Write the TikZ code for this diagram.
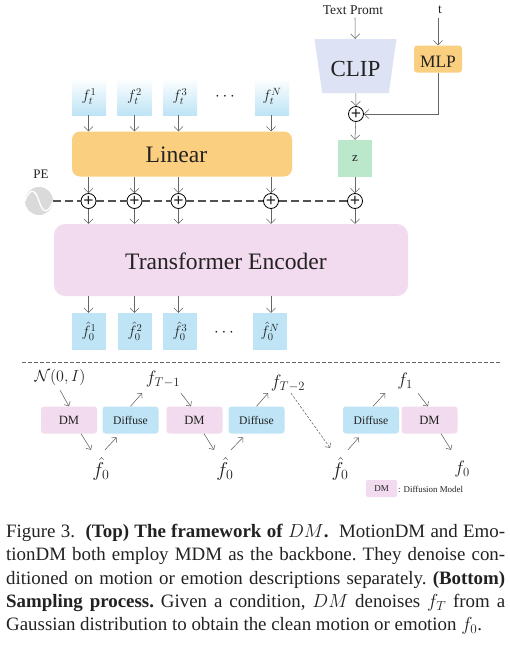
\documentclass[tikz,border=0pt]{standalone}
\usepackage{fix-cm}
\usepackage{fontspec}
\setmainfont{Liberation Serif}
\usepackage{xcolor}
\usetikzlibrary{arrows.meta,shapes.geometric}
\definecolor{DMPink}{HTML}{F2DBEE}
\definecolor{DMBlue}{HTML}{BEE4F6}
\definecolor{DMOrange}{HTML}{FBCF80}
\definecolor{DMClip}{HTML}{DDE3F4}
\definecolor{DMGreen}{HTML}{BBE7CB}
\definecolor{DMGrey}{HTML}{DADADA}
\definecolor{DMLine}{HTML}{666666}
\definecolor{DMText}{HTML}{222222}
\newcommand{\fsz}[1]{\fontsize{#1}{#1}\selectfont}
\newcommand{\lowered}[2]{\raisebox{\dimexpr-.33em-#1\relax}[.5em][.5em]{#2}}
\tikzset{
  every node/.style={text=DMText},
  flow/.style={DMLine,line width=.55pt,-{Straight Barb[length=4.5pt,width=9pt]}},
  thinflow/.style={DMLine!85!black,line width=.5pt,-{Straight Barb[length=3.5pt,width=7pt]}},
  gapflow/.style={thinflow,shorten >=5pt},
  fbox/.style={minimum width=34pt,minimum height=37pt,inner sep=0pt,fill=DMBlue,font=\fsz{15}},
  ftop/.style={fbox,fill=none,top color=white,middle color=DMBlue,bottom color=DMBlue},
  sumnode/.style={circle,draw=black,fill=white,line width=.8pt,minimum size=15pt,inner sep=0pt,font=\bfseries\fsz{18}},
  dashlink/.style={DMLine!80!black,line width=1.3pt,dash pattern=on 8pt off 4pt},
  wide/.style={rounded corners=8pt,inner sep=0pt,font=\fsz{23.6}},
  dmbox/.style={rounded corners=3pt,minimum width=56pt,minimum height=27pt,inner sep=0pt,fill=DMPink,font=\fsz{12.6}},
  diffbox/.style={dmbox,fill=DMBlue,font=\fsz{11.6}},
  mathlab/.style={inner sep=0pt,font=\fsz{18}},
}
\begin{document}
\begin{tikzpicture}[x=1pt,y=-1pt]
\path[use as bounding box] (0,0) rectangle (510,648);
\fill[white] (0,0) rectangle (510,648);
% condition branch
\node[inner sep=1pt,font=\fsz{13.5}] (prompt) at (353,10) {Text Promt};
\node[inner sep=1pt,font=\fsz{13.5}] (tstep) at (440,10) {t};
\node[trapezium,trapezium stretches=true,trapezium angle=76,shape border rotate=180,minimum width=82pt,minimum height=54pt,inner sep=0pt,fill=DMClip,font=\fsz{23}] (clip) at (355.5,66) {\lowered{2.7pt}{CLIP}};
\node[rounded corners=3pt,minimum width=48pt,minimum height=27pt,inner sep=0pt,fill=DMOrange,font=\fsz{17.4}] (mlp) at (438,59) {\lowered{3pt}{MLP}};
\node[sumnode] (sumT) at (356,114) {+};
\node[fbox,fill=DMGreen,font=\fsz{13}] (z) at (355,158.5) {z};
\draw[flow] ([xshift=2pt,yshift=-2pt]prompt.south) -- (clip);
\draw[flow] ([xshift=-2pt,yshift=-3pt]tstep.south) -- (mlp.north);
\draw[flow] (clip) -- (sumT);
\draw[flow] (mlp.south) |- (sumT);
\draw[flow] (sumT) -- (z.north);
% input frames
\node[ftop] (ftA) at (89,96.5) {$f_t^1$};
\node[ftop] (ftB) at (134.5,96.5) {$f_t^2$};
\node[ftop] (ftC) at (180,96.5) {$f_t^3$};
\node[ftop] (ftN) at (272,96.5) {$f_t^N$};
\node[inner sep=0pt,font=\fsz{17}] (dotsTop) at (225,97) {$\cdots$};
\node[wide,fill=DMOrange,minimum width=220pt,minimum height=45pt] (linear) at (182,154) {\lowered{1pt}{Linear}\hspace*{11pt}};
% positional encoding
\node[circle,fill=DMGrey,minimum size=28pt,inner sep=0pt] (pe) at (39,201) {};
\draw[white,line width=1.4pt] (pe.west) .. controls +(5,-13) and +(-4,-13) .. (pe.center) .. controls +(4,13) and +(-5,13) .. (pe.east);
\node[inner sep=0pt,font=\fsz{13}] (pelabel) at (41,174) {PE};
\node[sumnode] (sumA) at (88.5,201) {+};
\node[sumnode] (sumB) at (134.5,201) {+};
\node[sumnode] (sumC) at (178.5,201) {+};
\node[sumnode] (sumN) at (271,201) {+};
\node[sumnode] (sumZ) at (355,201) {+};
\draw[dashlink] (pe) -- (sumA);
\draw[dashlink] (sumA) -- (sumB);
\draw[dashlink] (sumB) -- (sumC);
\draw[dashlink] (sumC) -- (sumN);
\draw[dashlink] (sumN) -- (sumZ);
\draw[flow] (sumA |- ftA.south) -- (sumA |- linear.north);
\draw[flow] (sumB |- ftB.south) -- (sumB |- linear.north);
\draw[flow] (sumC |- ftC.south) -- (sumC |- linear.north);
\draw[flow] (sumN |- ftN.south) -- (sumN |- linear.north);
\draw[flow] (sumA |- linear.south) -- (sumA);
\draw[flow] (sumB |- linear.south) -- (sumB);
\draw[flow] (sumC |- linear.south) -- (sumC);
\draw[flow] (sumN |- linear.south) -- (sumN);
\draw[flow] (z.south) -- (sumZ);
% encoder and outputs
\node[wide,fill=DMPink,rounded corners=11pt,minimum width=354pt,minimum height=72pt] (encoder) at (231,260) {\lowered{1.5pt}{Transformer Encoder}\hspace*{10pt}};
\draw[flow] (sumA) -- (sumA |- encoder.north);
\draw[flow] (sumB) -- (sumB |- encoder.north);
\draw[flow] (sumC) -- (sumC |- encoder.north);
\draw[flow] (sumN) -- (sumN |- encoder.north);
\draw[flow] (sumZ) -- (sumZ |- encoder.north);
\node[fbox] (fzA) at (89,331.5) {$\hat f_0^1$};
\node[fbox] (fzB) at (135,331.5) {$\hat f_0^2$};
\node[fbox] (fzC) at (180,331.5) {$\hat f_0^3$};
\node[fbox] (fzN) at (270,331.5) {$\hat f_0^N$};
\node[inner sep=0pt,font=\fsz{17}] (dotsBot) at (224,333) {$\cdots$};
\draw[flow] (sumA |- encoder.south) -- (sumA |- fzA.north);
\draw[flow] (sumB |- encoder.south) -- (sumB |- fzB.north);
\draw[flow] (sumC |- encoder.south) -- (sumC |- fzC.north);
\draw[flow] (sumN |- encoder.south) -- (sumN |- fzN.north);
% separator
\coordinate (sepL) at (22,362);
\coordinate (sepR) at (500,362);
\draw[DMLine,line width=.6pt,dash pattern=on 4pt off 2pt] (sepL) -- (sepR);
% sampling row
\node[dmbox] (dmA) at (69,420) {DM};
\node[diffbox] (diffA) at (130.5,420) {Diffuse};
\node[dmbox] (dmB) at (194.5,420) {DM};
\node[diffbox] (diffB) at (256.5,420) {Diffuse};
\node[diffbox] (diffC) at (371,420) {Diffuse};
\node[dmbox] (dmC) at (429.5,420) {DM};
\node[mathlab,minimum height=26pt,font=\fsz{16}] (noise) at (60,377) {$\mathcal{N}(0,I)$};
\node[mathlab,minimum height=28pt] (fTa) at (163,379) {$f_{T-1}$};
\node[mathlab,minimum height=20pt] (fTb) at (288,383) {$f_{T-2}$};
\node[mathlab,minimum height=24pt] (fOne) at (405,381) {$f_1$};
\node[mathlab,minimum height=38pt,font=\fsz{20}] (fhatA) at (101,469) {$\hat f_0$};
\node[mathlab,minimum height=38pt,font=\fsz{20}] (fhatB) at (225,469) {$\hat f_0$};
\node[mathlab,minimum height=38pt,font=\fsz{20}] (fhatC) at (340,469) {$\hat f_0$};
\node[mathlab,minimum height=38pt] (fEnd) at (462,469) {$f_0$};
\draw[thinflow] (noise.south) -- (dmA.north);
\draw[thinflow] ([xshift=12pt]dmA.south) -- ([xshift=-10pt]fhatA.north);
\draw[gapflow] ([xshift=4pt]fhatA.north) -- ([xshift=-10.5pt]diffA.south);
\draw[thinflow] (diffA.north) -- ([xshift=-21pt]fTa.south);
\draw[thinflow] ([xshift=18pt]fTa.south) -- ([xshift=-3.5pt]dmB.north);
\draw[thinflow] ([xshift=9.5pt]dmB.south) -- ([xshift=-11pt]fhatB.north);
\draw[gapflow] ([xshift=6pt]fhatB.north) -- ([xshift=-10pt]diffB.south);
\draw[thinflow] (diffB.north) -- ([xshift=-20pt]fTb.south);
\draw[thinflow,dash pattern=on 2.5pt off 1.5pt] ([xshift=3pt]fTb.south) -- ([xshift=-10pt,yshift=2pt]fhatC.north);
\draw[gapflow] ([xshift=8pt]fhatC.north) -- ([xshift=-9pt]diffC.south);
\draw[thinflow] ([xshift=2pt]diffC.north) -- ([xshift=-20pt]fOne.south);
\draw[thinflow] ([xshift=13pt]fOne.south) -- ([xshift=-1.5pt]dmC.north);
\draw[thinflow] ([xshift=11.5pt]dmC.south) -- ([xshift=-11pt]fEnd.north);
% legend
\node[rounded corners=2pt,minimum width=31pt,minimum height=17pt,inner sep=0pt,fill=DMPink,font=\fsz{9}] (legendbox) at (381.5,488.5) {DM};
\node[anchor=west,inner sep=0pt,font=\fsz{8.9}] (legendtext) at (398,489.5) {: Diffusion Model};
% caption
\node[anchor=north west,inner sep=0pt,text width=499pt,align=justify,font=\fontsize{18.9}{23.3}\selectfont\frenchspacing] (caption) at (6,524) {%
Figure 3.\ \ \textbf{(Top) The framework of} $DM$\textbf{.} \ MotionDM and Emo-\linebreak
tionDM both employ MDM as the backbone. They denoise con-\linebreak
ditioned on motion or emotion descriptions separately. \textbf{(Bottom)}\linebreak
\textbf{Sampling process.} Given a condition, $DM$ denoises $f_T$ from a\linebreak
Gaussian distribution to obtain the clean motion or emotion $f_0$.};
\end{tikzpicture}
\end{document}
